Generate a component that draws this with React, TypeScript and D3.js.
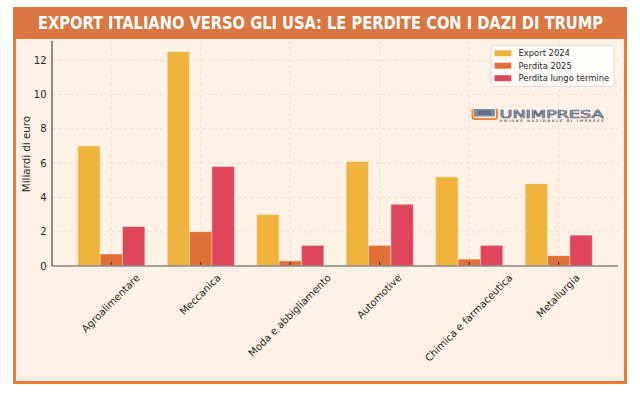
import React, { useEffect, useRef } from "react";
import * as d3 from "d3";

// chart data
const categories = [
  "Agroalimentare",
  "Meccanica",
  "Moda e abbigliamento",
  "Automotive",
  "Chimica e farmaceutica",
  "Metallurgia",
];
const export2024 = [7.0, 12.5, 3.0, 6.1, 5.2, 4.8];
const perdita2025 = [0.7, 2.0, 0.3, 1.2, 0.4, 0.6];
const perditaLungo = [2.3, 5.8, 1.2, 3.6, 1.2, 1.8];
const seriesNames = ["Export 2024", "Perdita 2025", "Perdita lungo termine"];
const yTicks = [0, 2, 4, 6, 8, 10, 12];
const title = "EXPORT ITALIANO VERSO GLI USA: LE PERDITE CON I DAZI DI TRUMP";

const W = 640;
const H = 395;
const colors = ["#f0b33e", "#e07036", "#de465b"];
const cream = "#fdf2e5";
const font = "'DejaVu Sans', sans-serif";

const App = () => {
  const ref = useRef<SVGSVGElement>(null);

  useEffect(() => {
    const svg = d3.select(ref.current);
    svg.selectAll("*").remove();

    const series = [export2024, perdita2025, perditaLungo];
    const barW = 0.25;

    const x = d3.scaleLinear().domain([-0.6625, 5.6625]).range([52, 618]);
    const y = d3.scaleLinear().domain([0, 13.125]).range([266, 41]);

    // frame + banner
    svg
      .append("rect")
      .attr("x", 14.5)
      .attr("y", 8.5)
      .attr("width", 611)
      .attr("height", 374)
      .attr("fill", cream)
      .attr("stroke", "#e8793d")
      .attr("stroke-width", 3);
    svg
      .append("rect")
      .attr("x", 13)
      .attr("y", 7)
      .attr("width", 614)
      .attr("height", 32)
      .attr("fill", "#d97641");
    svg
      .append("text")
      .attr("x", 320.5)
      .attr("y", 29)
      .attr("text-anchor", "middle")
      .attr("font-family", "'Liberation Sans Narrow', 'DejaVu Sans Condensed', sans-serif")
      .attr("font-weight", "bold")
      .attr("font-size", 17)
      .attr("fill", "#ffffff")
      .attr("textLength", 565)
      .attr("lengthAdjust", "spacingAndGlyphs")
      .text(title);

    // grid
    const grid = svg.append("g").attr("stroke", "#b5aca2").attr("stroke-opacity", 0.35)
      .attr("stroke-dasharray", "3,3").attr("stroke-width", 0.8);
    grid
      .selectAll("line.h")
      .data(yTicks)
      .join("line")
      .attr("x1", 52)
      .attr("x2", 618)
      .attr("y1", (d) => y(d))
      .attr("y2", (d) => y(d));
    grid
      .selectAll("line.v")
      .data(categories)
      .join("line")
      .attr("x1", (_d, i) => x(i))
      .attr("x2", (_d, i) => x(i))
      .attr("y1", 41)
      .attr("y2", 266);

    // bars
    series.forEach((vals, s) => {
      const off = (s - 1) * barW;
      svg
        .append("g")
        .selectAll("rect")
        .data(vals)
        .join("rect")
        .attr("x", (_d, i) => x(i + off - barW / 2))
        .attr("width", (_d, i) => x(i + off + barW / 2) - x(i + off - barW / 2))
        .attr("y", (d) => y(d))
        .attr("height", (d) => y(0) - y(d))
        .attr("fill", colors[s])
        .attr("stroke", "#ffffff")
        .attr("stroke-opacity", 0.45)
        .attr("stroke-width", 0.8);
    });

    // spines
    svg.append("line").attr("x1", 52).attr("x2", 52).attr("y1", 41).attr("y2", 266)
      .attr("stroke", "#222").attr("stroke-width", 1);
    svg.append("line").attr("x1", 51.5).attr("x2", 618).attr("y1", 266).attr("y2", 266)
      .attr("stroke", "#8c8780").attr("stroke-width", 1.5);

    // x ticks (inward)
    svg
      .append("g")
      .selectAll("line")
      .data(categories)
      .join("line")
      .attr("x1", (_d, i) => x(i))
      .attr("x2", (_d, i) => x(i))
      .attr("y1", 265)
      .attr("y2", 262)
      .attr("stroke", "#333")
      .attr("stroke-width", 1);

    // y tick labels
    svg
      .append("g")
      .selectAll("text")
      .data(yTicks)
      .join("text")
      .attr("x", 46.5)
      .attr("y", (d) => y(d))
      .attr("dy", "0.36em")
      .attr("text-anchor", "end")
      .attr("font-family", font)
      .attr("font-size", 10)
      .attr("fill", "#262626")
      .text((d) => d);

    // y axis label
    svg
      .append("text")
      .attr("transform", "translate(26.5,154) rotate(-90)")
      .attr("text-anchor", "middle")
      .attr("dy", "0.36em")
      .attr("font-family", font)
      .attr("font-size", 10.3)
      .attr("fill", "#262626")
      .text("Miliardi di euro");

    // x tick labels, rotated 45 deg, bbox centred on the tick
    const fs = 10;
    const asc = 0.76 * fs;
    const desc = 0.24 * fs;
    const k = Math.SQRT1_2;
    categories.forEach((c, i) => {
      const t = svg
        .append("text")
        .attr("text-anchor", "end")
        .attr("font-family", font)
        .attr("font-size", fs)
        .attr("fill", "#262626")
        .text(c);
      const w = (t.node() as SVGTextElement).getComputedTextLength();
      const ax = x(i) + (k * (w + asc - desc)) / 2;
      const ay = 273 + k * asc;
      t.attr("transform", `translate(${ax},${ay}) rotate(-45)`);
    });

    // legend
    const lg = svg.append("g");
    lg.append("rect")
      .attr("x", 491)
      .attr("y", 45.5)
      .attr("width", 123)
      .attr("height", 41)
      .attr("rx", 2)
      .attr("fill", "#ffffff")
      .attr("fill-opacity", 0.75)
      .attr("stroke", "#d9d6d2")
      .attr("stroke-width", 0.8);
    const rowY = [53.3, 65.7, 78.2];
    seriesNames.forEach((n, s) => {
      lg.append("rect")
        .attr("x", 494.5)
        .attr("y", rowY[s] - 3)
        .attr("width", 16.8)
        .attr("height", 6)
        .attr("fill", colors[s]);
      lg.append("text")
        .attr("x", 518.5)
        .attr("y", rowY[s])
        .attr("dy", "0.36em")
        .attr("font-family", font)
        .attr("font-size", 8.4)
        .attr("fill", "#262626")
        .text(n);
    });

    // logo
    const logo = svg.append("g");
    logo.append("rect").attr("x", 474).attr("y", 109).attr("width", 21).attr("height", 7.5)
      .attr("fill", "#7d8aa0");
    logo.append("rect").attr("x", 478).attr("y", 110.5).attr("width", 13).attr("height", 4.5)
      .attr("fill", "#5d6c88");
    logo.append("path")
      .attr("d", "M472.5,109 V116.5 Q472.5,119 475,119 H494.5 Q497,119 497,116.5 V109")
      .attr("fill", "none")
      .attr("stroke", "#e8883a")
      .attr("stroke-width", 2);
    logo.append("text")
      .attr("x", 499.5)
      .attr("y", 117.5)
      .attr("font-family", "'DejaVu Sans', sans-serif")
      .attr("font-size", 10)
      .attr("fill", "#e6e9ef")
      .attr("stroke", "#5f6e8a")
      .attr("stroke-width", 0.7)
      .attr("textLength", 104)
      .attr("lengthAdjust", "spacingAndGlyphs")
      .text("UNIMPRESA");
    logo.append("text")
      .attr("x", 499.5)
      .attr("y", 122.3)
      .attr("font-family", "'DejaVu Sans', sans-serif")
      .attr("font-weight", "bold")
      .attr("font-size", 3.4)
      .attr("fill", "#7a6a60")
      .attr("textLength", 104)
      .attr("lengthAdjust", "spacing")
      .text("UNIONE NAZIONALE DI IMPRESE");
  }, []);

  return (
    <svg
      ref={ref}
      width={W}
      height={H}
      style={{ position: "absolute", left: 0, top: 0, display: "block", background: "#ffffff" }}
    />
  );
};

export default App;
